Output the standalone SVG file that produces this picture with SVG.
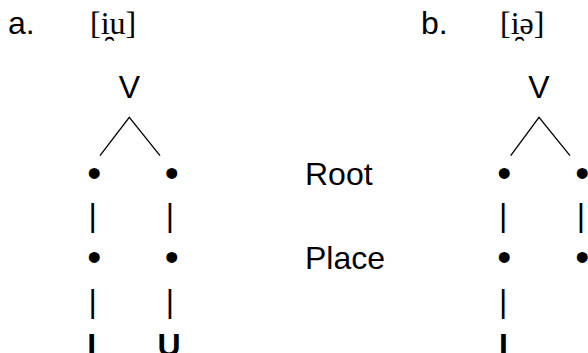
<svg xmlns="http://www.w3.org/2000/svg" width="588" height="353" viewBox="0 0 588 353">
<style>
text{font-family:"Liberation Sans",Arial,sans-serif;font-size:32px;fill:#000}
.ipa{font-family:"Liberation Serif","DejaVu Serif",serif}
.b{font-weight:bold}
.dot{font-size:40px}
.ln{stroke:#000;stroke-width:1.3;fill:none}
</style>
<rect width="588" height="353" fill="#fff"/>
<g id="labels">
<text x="8" y="34">a.</text>
<text class="ipa" x="90" y="34">[i̯u]</text>
<text x="421" y="34">b.</text>
<text class="ipa" x="500" y="34">[i̯ə]</text>
<text x="305" y="185">Root</text>
<text x="305" y="269">Place</text>
</g>
<g id="treeA">
<g id="a-V"><text x="129.5" y="98" text-anchor="middle">V</text></g>
<g id="a-root1"><text class="dot" x="87.3" y="186.5">•</text></g>
<g id="a-root2"><text class="dot" x="164.7" y="186.5">•</text></g>
<g id="a-place1"><text class="dot" x="87.3" y="271">•</text></g>
<g id="a-place2"><text class="dot" x="164.7" y="271">•</text></g>
<g id="a-I"><text class="b" x="87.3" y="356">I</text></g>
<g id="a-U"><text class="b" x="157.5" y="356">U</text></g>
</g>
<g id="treeB">
<g id="b-V"><text x="539" y="98" text-anchor="middle">V</text></g>
<g id="b-root1"><text class="dot" x="497.3" y="186.5">•</text></g>
<g id="b-root2"><text class="dot" x="575.3" y="186.5">•</text></g>
<g id="b-place1"><text class="dot" x="497.3" y="271">•</text></g>
<g id="b-place2"><text class="dot" x="575.3" y="271">•</text></g>
<g id="b-I"><text class="b" x="498.9" y="356">I</text></g>
</g>
<g id="connectors">
<polyline class="ln" points="100,155.7 129.3,117.3 160,155.7"/>
<polyline class="ln" points="510.7,155.7 539,117.3 570,155.7"/>
<text x="88.5" y="226">|</text>
<text x="165.8" y="226">|</text>
<text x="88.5" y="312">|</text>
<text x="165.8" y="312">|</text>
<text x="499.1" y="226">|</text>
<text x="576.8" y="226">|</text>
<text x="499.1" y="312">|</text>
</g>
</svg>
